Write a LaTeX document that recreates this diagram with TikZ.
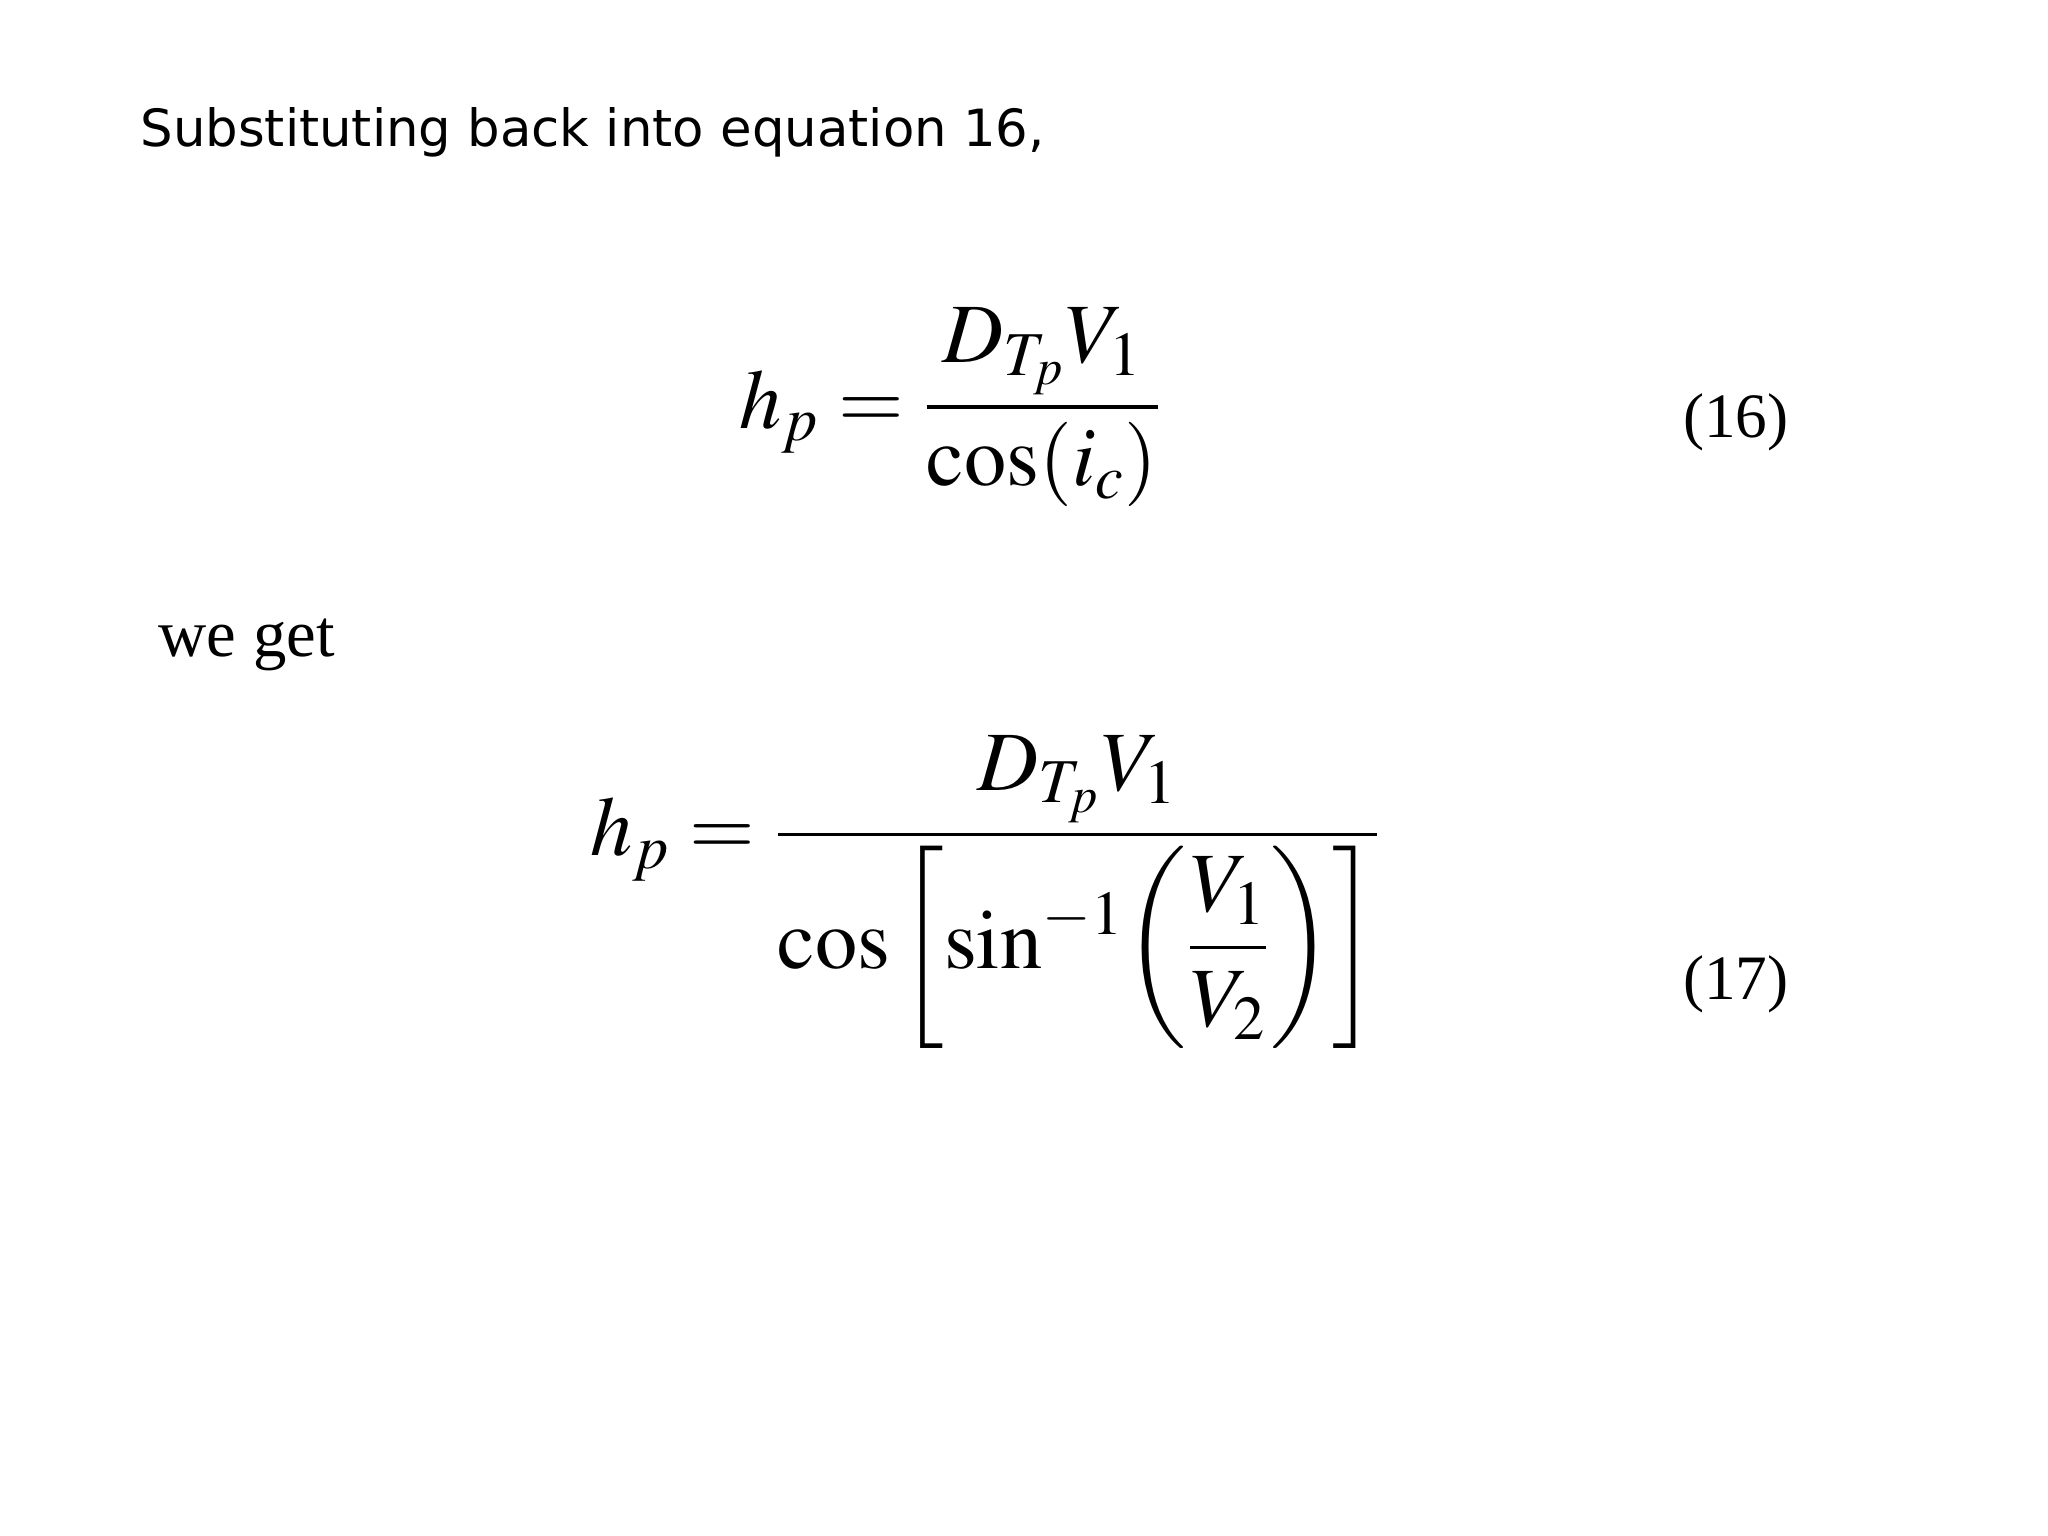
\documentclass[tikz,border=0pt]{standalone}
\usepackage{amsmath}
\usepackage{mathptmx}
\usepackage{fontspec}
\setmainfont{Liberation Serif}
\newfontfamily\headfont{DejaVu Sans}
\begin{document}
\begin{tikzpicture}[x=0.01306cm,y=-0.01306cm,
  eq/.style={inner sep=0pt,font=\fontsize{24}{28}\selectfont},
  num/.style={inner sep=0pt,font=\fontsize{18}{21}\selectfont}]
\useasboundingbox (0,0) rectangle (1568,1176);
\node[anchor=base west,inner sep=0pt,font=\headfont\fontsize{14.6}{17}\selectfont] (head) at (107,112) {Substituting back into equation 16,};
\node[eq] (e1) at (728,312) {$\displaystyle h_p=\frac{D_{T_p}V_{1}}{\cos(i_c)}$};
\node[num,anchor=base east] (n1) at (1370,335) {(16)};
\node[anchor=base west,inner sep=0pt,font=\fontsize{19}{22}\selectfont] (we) at (121,503) {we get};
\node[eq] (e2) at (755,683) {$\displaystyle h_p=\frac{D_{T_p}V_{1}}{\cos\left[\sin^{-1}\!\left(\dfrac{V_1}{V_2}\right)\right]}$};
\node[num,anchor=base east] (n2) at (1370,765) {(17)};
\end{tikzpicture}
\end{document}
